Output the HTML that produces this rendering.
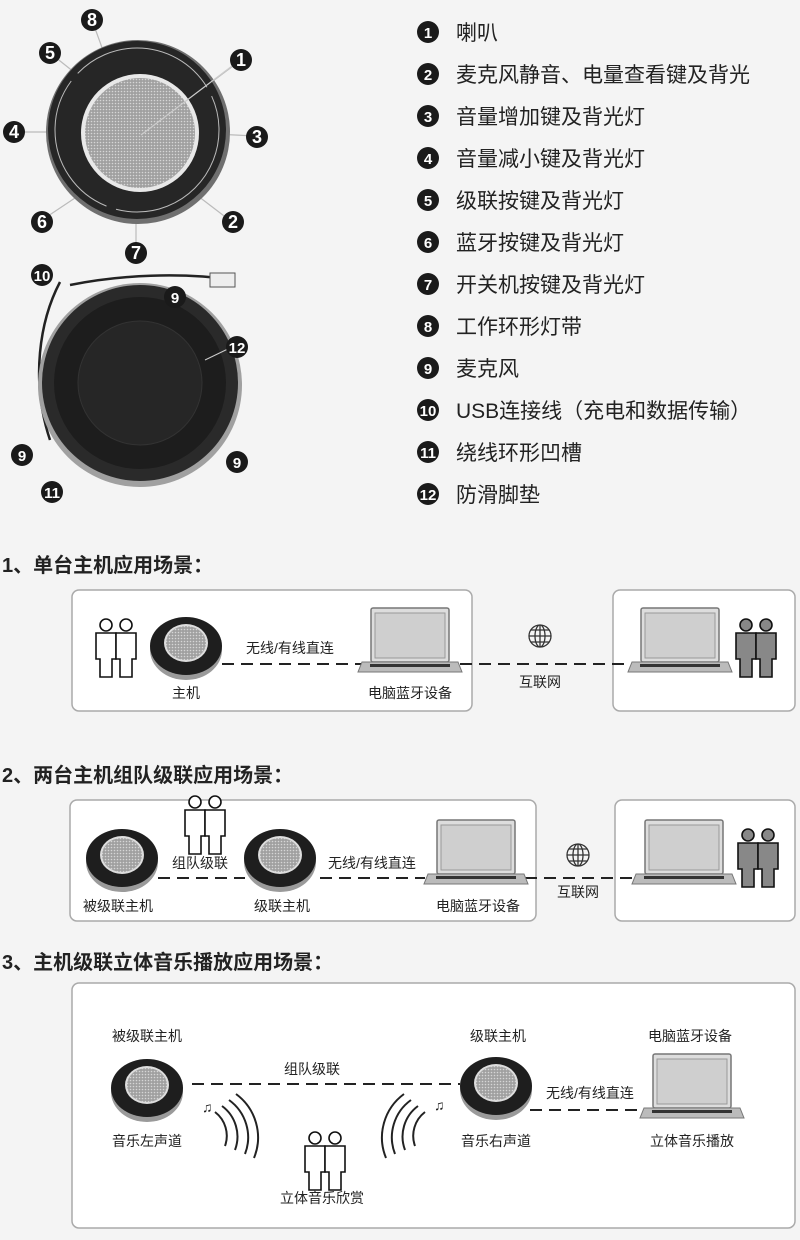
<!DOCTYPE html>
<html><head><meta charset="utf-8"><style>
html,body{margin:0;padding:0;background:#f4f4f4}
svg{display:block}
text{font-family:"Liberation Sans","Noto Sans CJK SC",sans-serif;fill:#222}
</style></head><body>
<svg width="800" height="1240" viewBox="0 0 800 1240" xmlns="http://www.w3.org/2000/svg">
<defs>
<pattern id="mesh" width="3" height="3" patternUnits="userSpaceOnUse"><rect width="3" height="3" fill="#a0a0a0"/><circle cx="1.5" cy="1.5" r="0.8" fill="#d6d6d6"/></pattern>
<g id="spk">
<ellipse cx="0" cy="4" rx="36" ry="30" fill="#9a9a9a"/>
<ellipse cx="0" cy="0" rx="36" ry="29" fill="#1e1e1e"/>
<ellipse cx="0" cy="-3" rx="22" ry="19" fill="#ddd"/>
<ellipse cx="0" cy="-3" rx="20" ry="17" fill="url(#mesh)"/>
</g>
<g id="lap">
<rect x="-39" y="-52" width="78" height="54" rx="2" fill="#ddd" stroke="#777" stroke-width="1.5"/>
<rect x="-35" y="-47" width="70" height="45" fill="#cfcfcf" stroke="#999"/>
<path d="M-48 2 H48 L52 12 H-52 Z" fill="#bbb" stroke="#777"/>
<rect x="-40" y="4" width="80" height="3" fill="#333"/>
</g>
<g id="ppl" fill="#fff" stroke="#111" stroke-width="1.6">
<circle cx="-9" cy="-20" r="6"/><path d="M-19 -12 H1 V14 H-3 V32 H-15 V14 H-19 Z"/>
<circle cx="11" cy="-20" r="6"/><path d="M1 -12 H21 V14 H17 V32 H5 V14 H1 Z"/>
</g>
<g id="pplD" fill="#888" stroke="#111" stroke-width="1.6">
<circle cx="-9" cy="-20" r="6"/><path d="M-19 -12 H1 V14 H-3 V32 H-15 V14 H-19 Z"/>
<circle cx="11" cy="-20" r="6"/><path d="M1 -12 H21 V14 H17 V32 H5 V14 H1 Z"/>
</g>
<g id="globe" fill="none" stroke="#333" stroke-width="1.3">
<circle r="11"/><ellipse rx="5" ry="11"/><line x1="-11" x2="11"/><line x1="-9" y1="-6" x2="9" y2="-6"/><line x1="-9" y1="6" x2="9" y2="6"/><line y1="-11" y2="11"/>
</g>
<g id="num"><circle r="11" fill="#1a1a1a"/></g>
</defs>

<!-- top device -->
<g stroke="#bbb" stroke-width="1.2">
<line x1="141" y1="135" x2="241" y2="60"/><line x1="92" y1="20" x2="113" y2="78"/>
<line x1="50" y1="53" x2="84" y2="80"/><line x1="16" y1="132" x2="60" y2="132"/>
<line x1="215" y1="134" x2="255" y2="136"/><line x1="42" y1="220" x2="84" y2="192"/>
<line x1="232" y1="222" x2="194" y2="193"/><line x1="136" y1="205" x2="136" y2="245"/>
</g>
<circle cx="138" cy="132" r="92" fill="#6f6f6f"/>
<circle cx="137" cy="130" r="89" fill="#262626"/>
<circle cx="137" cy="130" r="82" fill="none" stroke="#bbb" stroke-width="1" stroke-dasharray="150 10"/>
<circle cx="140" cy="133" r="59" fill="#e8e8e8"/>
<circle cx="140" cy="133" r="55" fill="url(#mesh)"/>
<line x1="141" y1="135" x2="232" y2="66" stroke="#ccc" stroke-width="1.2"/>
<g font-size="18" font-weight="bold">
<use href="#num" x="92" y="20"/><text x="92" y="26" text-anchor="middle" style="fill:#fff">8</text>
<use href="#num" x="50" y="53"/><text x="50" y="59" text-anchor="middle" style="fill:#fff">5</text>
<use href="#num" x="241" y="60"/><text x="241" y="66" text-anchor="middle" style="fill:#fff">1</text>
<use href="#num" x="14" y="132"/><text x="14" y="138" text-anchor="middle" style="fill:#fff">4</text>
<use href="#num" x="257" y="137"/><text x="257" y="143" text-anchor="middle" style="fill:#fff">3</text>
<use href="#num" x="42" y="222"/><text x="42" y="228" text-anchor="middle" style="fill:#fff">6</text>
<use href="#num" x="233" y="222"/><text x="233" y="228" text-anchor="middle" style="fill:#fff">2</text>
<use href="#num" x="136" y="253"/><text x="136" y="259" text-anchor="middle" style="fill:#fff">7</text>
</g>

<!-- bottom device -->
<path d="M60 282 C40 320 30 380 50 440 M70 285 C120 275 180 272 235 280" fill="none" stroke="#222" stroke-width="2.5"/>
<rect x="210" y="273" width="25" height="14" fill="#eee" stroke="#555"/>
<circle cx="140" cy="385" r="102" fill="#a0a0a0"/>
<circle cx="140" cy="383" r="98" fill="#2a2a2a"/>
<circle cx="140" cy="383" r="86" fill="#1d1d1d"/>
<circle cx="140" cy="383" r="62" fill="#262626" stroke="#333"/>
<line x1="205" y1="360" x2="232" y2="347" stroke="#ccc"/>
<g font-size="15" font-weight="bold">
<use href="#num" x="42" y="275"/><text x="42" y="281" text-anchor="middle" style="fill:#fff">10</text>
<use href="#num" x="175" y="297"/><text x="175" y="303" text-anchor="middle" style="fill:#fff">9</text>
<use href="#num" x="237" y="347"/><text x="237" y="353" text-anchor="middle" style="fill:#fff">12</text>
<use href="#num" x="22" y="455"/><text x="22" y="461" text-anchor="middle" style="fill:#fff">9</text>
<use href="#num" x="237" y="462"/><text x="237" y="468" text-anchor="middle" style="fill:#fff">9</text>
<use href="#num" x="52" y="492"/><text x="52" y="498" text-anchor="middle" style="fill:#fff">11</text>
</g>

<!-- legend -->
<g font-size="21">
<g font-size="15" font-weight="bold">
<use href="#num" x="428" y="32"/><use href="#num" x="428" y="74"/><use href="#num" x="428" y="116"/><use href="#num" x="428" y="158"/><use href="#num" x="428" y="200"/><use href="#num" x="428" y="242"/><use href="#num" x="428" y="284"/><use href="#num" x="428" y="326"/><use href="#num" x="428" y="368"/><use href="#num" x="428" y="410"/><use href="#num" x="428" y="452"/><use href="#num" x="428" y="494"/>
<text text-anchor="middle" style="fill:#fff"><tspan x="428" y="38">1</tspan><tspan x="428" y="80">2</tspan><tspan x="428" y="122">3</tspan><tspan x="428" y="164">4</tspan><tspan x="428" y="206">5</tspan><tspan x="428" y="248">6</tspan><tspan x="428" y="290">7</tspan><tspan x="428" y="332">8</tspan><tspan x="428" y="374">9</tspan><tspan x="428" y="416">10</tspan><tspan x="428" y="458">11</tspan><tspan x="428" y="500">12</tspan></text>
</g>
<text x="456" y="40">喇叭</text>
<text x="456" y="82">麦克风静音、电量查看键及背光</text>
<text x="456" y="124">音量增加键及背光灯</text>
<text x="456" y="166">音量减小键及背光灯</text>
<text x="456" y="208">级联按键及背光灯</text>
<text x="456" y="250">蓝牙按键及背光灯</text>
<text x="456" y="292">开关机按键及背光灯</text>
<text x="456" y="334">工作环形灯带</text>
<text x="456" y="376">麦克风</text>
<text x="456" y="418">USB连接线（充电和数据传输）</text>
<text x="456" y="460">绕线环形凹槽</text>
<text x="456" y="502">防滑脚垫</text>
</g>

<!-- headings -->
<g font-size="20" font-weight="bold">
<text x="2" y="572">1、单台主机应用场景：</text>
<text x="2" y="782">2、两台主机组队级联应用场景：</text>
<text x="2" y="969">3、主机级联立体音乐播放应用场景：</text>
</g>

<g fill="#fff" stroke="#aaa" stroke-width="1.5">
<rect x="72" y="590" width="400" height="121" rx="7"/>
<rect x="613" y="590" width="182" height="121" rx="7"/>
<rect x="70" y="800" width="466" height="121" rx="7"/>
<rect x="615" y="800" width="180" height="121" rx="7"/>
<rect x="72" y="983" width="723" height="245" rx="7"/>
</g>

<g stroke="#222" stroke-width="2" stroke-dasharray="12 7" fill="none">
<line x1="222" y1="664" x2="362" y2="664"/>
<line x1="460" y1="664" x2="637" y2="664"/>
<line x1="158" y1="878" x2="245" y2="878"/>
<line x1="320" y1="878" x2="425" y2="878"/>
<line x1="525" y1="878" x2="640" y2="878"/>
<line x1="192" y1="1084" x2="460" y2="1084"/>
<line x1="530" y1="1110" x2="645" y2="1110"/>
</g>

<g font-size="14">
<!-- scene 1 -->
<use href="#ppl" x="115" y="645"/>
<use href="#spk" x="186" y="646"/>
<text x="186" y="698" text-anchor="middle">主机</text>
<text x="290" y="653" text-anchor="middle">无线/有线直连</text>
<use href="#lap" x="410" y="660"/>
<text x="410" y="698" text-anchor="middle">电脑蓝牙设备</text>
<use href="#globe" x="540" y="636"/>
<text x="540" y="687" text-anchor="middle">互联网</text>
<use href="#lap" x="680" y="660"/>
<use href="#pplD" x="755" y="645"/>
<!-- scene 2 -->
<use href="#spk" x="122" y="858"/>
<text x="118" y="911" text-anchor="middle">被级联主机</text>
<use href="#ppl" x="204" y="822"/>
<text x="200" y="868" text-anchor="middle">组队级联</text>
<use href="#spk" x="280" y="858"/>
<text x="282" y="911" text-anchor="middle">级联主机</text>
<text x="372" y="868" text-anchor="middle">无线/有线直连</text>
<use href="#lap" x="476" y="872"/>
<text x="478" y="911" text-anchor="middle">电脑蓝牙设备</text>
<use href="#globe" x="578" y="855"/>
<text x="578" y="897" text-anchor="middle">互联网</text>
<use href="#lap" x="684" y="872"/>
<use href="#pplD" x="757" y="855"/>
<!-- scene 3 -->
<text x="147" y="1041" text-anchor="middle">被级联主机</text>
<use href="#spk" x="147" y="1088"/>
<text x="147" y="1146" text-anchor="middle">音乐左声道</text>
<text x="312" y="1074" text-anchor="middle">组队级联</text>
<text x="498" y="1041" text-anchor="middle">级联主机</text>
<use href="#spk" x="496" y="1086"/>
<text x="496" y="1146" text-anchor="middle">音乐右声道</text>
<text x="590" y="1098" text-anchor="middle">无线/有线直连</text>
<text x="690" y="1041" text-anchor="middle">电脑蓝牙设备</text>
<use href="#lap" x="692" y="1106"/>
<text x="692" y="1146" text-anchor="middle">立体音乐播放</text>
<use href="#ppl" x="324" y="1158"/>
<text x="322" y="1203" text-anchor="middle">立体音乐欣赏</text>
<text x="202" y="1112" font-size="14">♫</text>
<text x="434" y="1110" font-size="14">♫</text>
</g>
<g fill="none" stroke="#222" stroke-width="2">
<path d="M215 1112 a30 30 0 0 1 10 34"/><path d="M222 1106 a38 38 0 0 1 13 44"/><path d="M229 1100 a46 46 0 0 1 16 54"/><path d="M236 1094 a54 54 0 0 1 18 64"/>
<path d="M425 1112 a30 30 0 0 0 -10 34"/><path d="M418 1106 a38 38 0 0 0 -13 44"/><path d="M411 1100 a46 46 0 0 0 -16 54"/><path d="M404 1094 a54 54 0 0 0 -18 64"/>
</g>
</svg>
</body></html>
